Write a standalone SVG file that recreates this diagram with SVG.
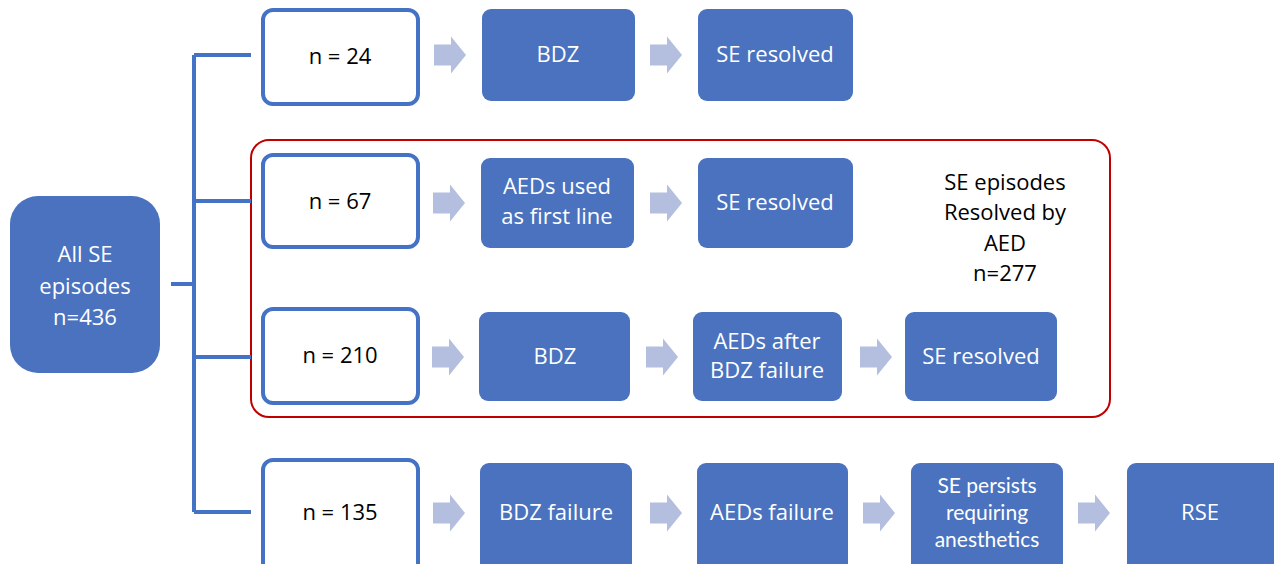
<svg xmlns="http://www.w3.org/2000/svg" xmlns:xlink="http://www.w3.org/1999/xlink" width="1274" height="564" viewBox="0 0 1274 564">
<style>
.nbox{fill:#ffffff;stroke:#4472C4;stroke-width:4}
.bbox{fill:#4A72BE;stroke:none}
.conn{stroke:#4472C4;stroke-width:4;fill:none}
.arr{fill:#B4BFDF}
.wt{font-family:"Open Sans","Noto Sans",sans-serif;font-size:22px;fill:#ffffff;text-anchor:middle}
.bt{font-family:"Open Sans","Noto Sans",sans-serif;font-size:22px;fill:#000000;text-anchor:middle}
.red{fill:none;stroke:#C00000;stroke-width:2}
.sm{font-family:Lato,"Open Sans",sans-serif;font-size:21px}
</style>
<defs>
<path id="arrow" d="M0,-10.5 H17 V-18.5 L32,0 L17,18.5 V10.5 H0 Z"/>
</defs>
<rect width="1274" height="564" fill="#ffffff"/>

<g id="group-aed">
<rect class="red" x="251" y="140" width="859" height="277" rx="18"/>
<text class="bt" x="1005" y="190">SE episodes</text>
<text class="bt" x="1005" y="220">Resolved by</text>
<text class="bt" x="1005" y="251">AED</text>
<text class="bt" x="1005" y="281">n=277</text>
</g>

<g id="connectors">
<path class="conn" d="M171,284 H194 M194,55 V512 M194,55 H251 M194,201 H251 M194,357 H251 M194,512 H251"/>
<g class="arr">
<use xlink:href="#arrow" transform="translate(434,55)"/>
<use xlink:href="#arrow" transform="translate(650,55)"/>
<use xlink:href="#arrow" transform="translate(433,203)"/>
<use xlink:href="#arrow" transform="translate(650,203)"/>
<use xlink:href="#arrow" transform="translate(432,357)"/>
<use xlink:href="#arrow" transform="translate(646,357)"/>
<use xlink:href="#arrow" transform="translate(860,357)"/>
<use xlink:href="#arrow" transform="translate(433,513)"/>
<use xlink:href="#arrow" transform="translate(650,513)"/>
<use xlink:href="#arrow" transform="translate(863,513)"/>
<use xlink:href="#arrow" transform="translate(1078,513)"/>
</g>
</g>

<g id="all-se">
<rect class="bbox" x="10" y="196" width="150" height="177" rx="28" stroke="#3F66AE" stroke-width="1"/>
<text class="wt" x="85" y="262" font-size="23">All SE</text>
<text class="wt" x="85" y="294" font-size="23">episodes</text>
<text class="wt" x="85" y="325" font-size="23">n=436</text>
</g>

<g id="n24"><rect class="nbox" x="263" y="10" width="155" height="94" rx="10"/><text class="bt" x="340" y="64">n = 24</text></g>
<g id="n67"><rect class="nbox" x="263" y="155" width="155" height="92" rx="10"/><text class="bt" x="340" y="209">n = 67</text></g>
<g id="n210"><rect class="nbox" x="263" y="309" width="155" height="94" rx="10"/><text class="bt" x="340" y="363">n = 210</text></g>
<g id="n135"><rect class="nbox" x="263" y="460" width="155" height="120" rx="10"/><text class="bt" x="340" y="520">n = 135</text></g>

<g id="r1-bdz"><rect class="bbox" x="482" y="9" width="153" height="92" rx="9"/><text class="wt" x="558" y="62">BDZ</text></g>
<g id="r1-resolved"><rect class="bbox" x="698" y="9" width="155" height="92" rx="9"/><text class="wt" x="775" y="62">SE resolved</text></g>

<g id="r2-aeds"><rect class="bbox" x="481" y="158" width="153" height="90" rx="9"/><text class="wt" x="557" y="194">AEDs used</text><text class="wt" x="557" y="224">as first line</text></g>
<g id="r2-resolved"><rect class="bbox" x="698" y="158" width="155" height="90" rx="9"/><text class="wt" x="775" y="210">SE resolved</text></g>

<g id="r3-bdz"><rect class="bbox" x="479" y="312" width="151" height="89" rx="9"/><text class="wt" x="555" y="364">BDZ</text></g>
<g id="r3-aeds"><rect class="bbox" x="693" y="312" width="149" height="89" rx="9"/><text class="wt" x="767" y="349">AEDs after</text><text class="wt" x="767" y="378">BDZ failure</text></g>
<g id="r3-resolved"><rect class="bbox" x="905" y="312" width="152" height="89" rx="9"/><text class="wt" x="981" y="364">SE resolved</text></g>

<g id="r4-bdzf"><rect class="bbox" x="480" y="463" width="152" height="115" rx="9"/><text class="wt" x="556" y="520">BDZ failure</text></g>
<g id="r4-aedsf"><rect class="bbox" x="697" y="463" width="151" height="115" rx="9"/><text class="wt" x="772" y="520">AEDs failure</text></g>
<g id="r4-persists"><rect class="bbox" x="911" y="463" width="152" height="115" rx="9"/><text class="wt sm" x="987" y="493">SE persists</text><text class="wt sm" x="987" y="520">requiring</text><text class="wt sm" x="987" y="547">anesthetics</text></g>
<g id="r4-rse"><rect class="bbox" x="1127" y="463" width="160" height="115" rx="9"/><text class="wt" x="1200" y="520">RSE</text></g>
</svg>
